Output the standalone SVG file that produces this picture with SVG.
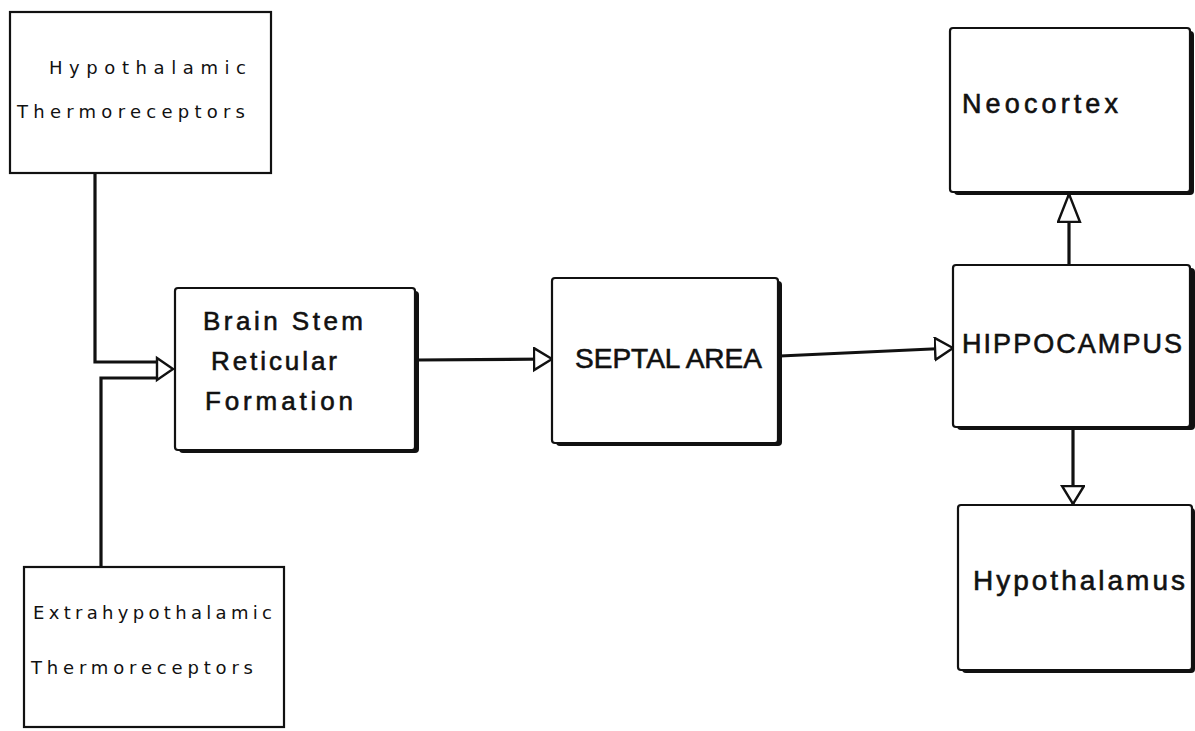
<svg xmlns="http://www.w3.org/2000/svg" width="1195" height="731" viewBox="0 0 1195 731">
<style>
  .box { fill: #ffffff; stroke: #111111; stroke-width: 2.2; }
  .shadow { fill: #111111; }
  .conn { fill: none; stroke: #111111; stroke-width: 3.2; stroke-linejoin: miter; }
  .head { fill: #ffffff; stroke: #111111; stroke-width: 2.4; stroke-linejoin: miter; }
  .small { font-family: "DejaVu Sans", "Liberation Sans", sans-serif; font-size: 18px; fill: #111111; }
  .big { font-family: "Liberation Sans", "DejaVu Sans", sans-serif; fill: #111111; stroke: #111111; stroke-width: 0.6; }
</style>
<defs>
  <marker id="arrow" markerUnits="userSpaceOnUse" markerWidth="22" markerHeight="26" refX="19" refY="12" orient="auto" viewBox="0 0 22 26">
    <path d="M1,1 L19,12 L1,23 Z" class="head"/>
  </marker>
  <marker id="arrowLong" markerUnits="userSpaceOnUse" markerWidth="32" markerHeight="26" refX="29" refY="12" orient="auto" viewBox="0 0 32 26">
    <path d="M1,1 L29,12 L1,23 Z" class="head"/>
  </marker>
</defs>
<rect width="1195" height="731" fill="#ffffff"/>

<g id="connectors">
  <path class="conn" d="M95,173 L95,362 L157,362"/>
  <path class="conn" d="M101,567 L101,378 L157,378"/>
  <polygon class="head" points="157,358 173,369 157,380"/>
  <path class="conn" d="M417,360 L552,359" marker-end="url(#arrow)"/>
  <path class="conn" d="M780,356 L953,348" marker-end="url(#arrow)"/>
  <path class="conn" d="M1069,265 L1069,194" marker-end="url(#arrowLong)"/>
  <path class="conn" d="M1073,429 L1073,504" marker-end="url(#arrow)"/>
</g>

<g id="hypothalamic-thermoreceptors">
  <rect class="box" x="10" y="12" width="261" height="161"/>
  <text class="small" x="49" y="74" textLength="197">Hypothalamic</text>
  <text class="small" x="17" y="118" textLength="228">Thermoreceptors</text>
</g>

<g id="extrahypothalamic-thermoreceptors">
  <rect class="box" x="24" y="567" width="260" height="160"/>
  <text class="small" x="33" y="619" textLength="239">Extrahypothalamic</text>
  <text class="small" x="31" y="674" textLength="222">Thermoreceptors</text>
</g>

<g id="brain-stem">
  <rect class="shadow" x="179" y="291" width="240" height="162" rx="4"/>
  <rect class="box" x="175" y="288" width="240" height="162" rx="3"/>
  <text class="big" font-size="26" x="203" y="330" textLength="160">Brain Stem</text>
  <text class="big" font-size="26" x="211" y="370" textLength="126">Reticular</text>
  <text class="big" font-size="26" x="205" y="410" textLength="148">Formation</text>
</g>

<g id="septal-area">
  <rect class="shadow" x="556" y="281" width="226" height="165" rx="4"/>
  <rect class="box" x="552" y="278" width="226" height="165" rx="3"/>
  <text class="big" font-size="28" x="575" y="368" textLength="187">SEPTAL AREA</text>
</g>

<g id="neocortex">
  <rect class="shadow" x="954" y="31" width="240" height="164" rx="4"/>
  <rect class="box" x="950" y="28" width="240" height="164" rx="3"/>
  <text class="big" font-size="27" x="962" y="113" textLength="156">Neocortex</text>
</g>

<g id="hippocampus">
  <rect class="shadow" x="957" y="268" width="238" height="162" rx="4"/>
  <rect class="box" x="953" y="265" width="237" height="162" rx="3"/>
  <text class="big" font-size="27" x="962" y="353" textLength="220">HIPPOCAMPUS</text>
</g>

<g id="hypothalamus">
  <rect class="shadow" x="962" y="508" width="233" height="165" rx="4"/>
  <rect class="box" x="958" y="505" width="234" height="165" rx="3"/>
  <text class="big" font-size="28" x="973" y="590" textLength="212">Hypothalamus</text>
</g>
</svg>
